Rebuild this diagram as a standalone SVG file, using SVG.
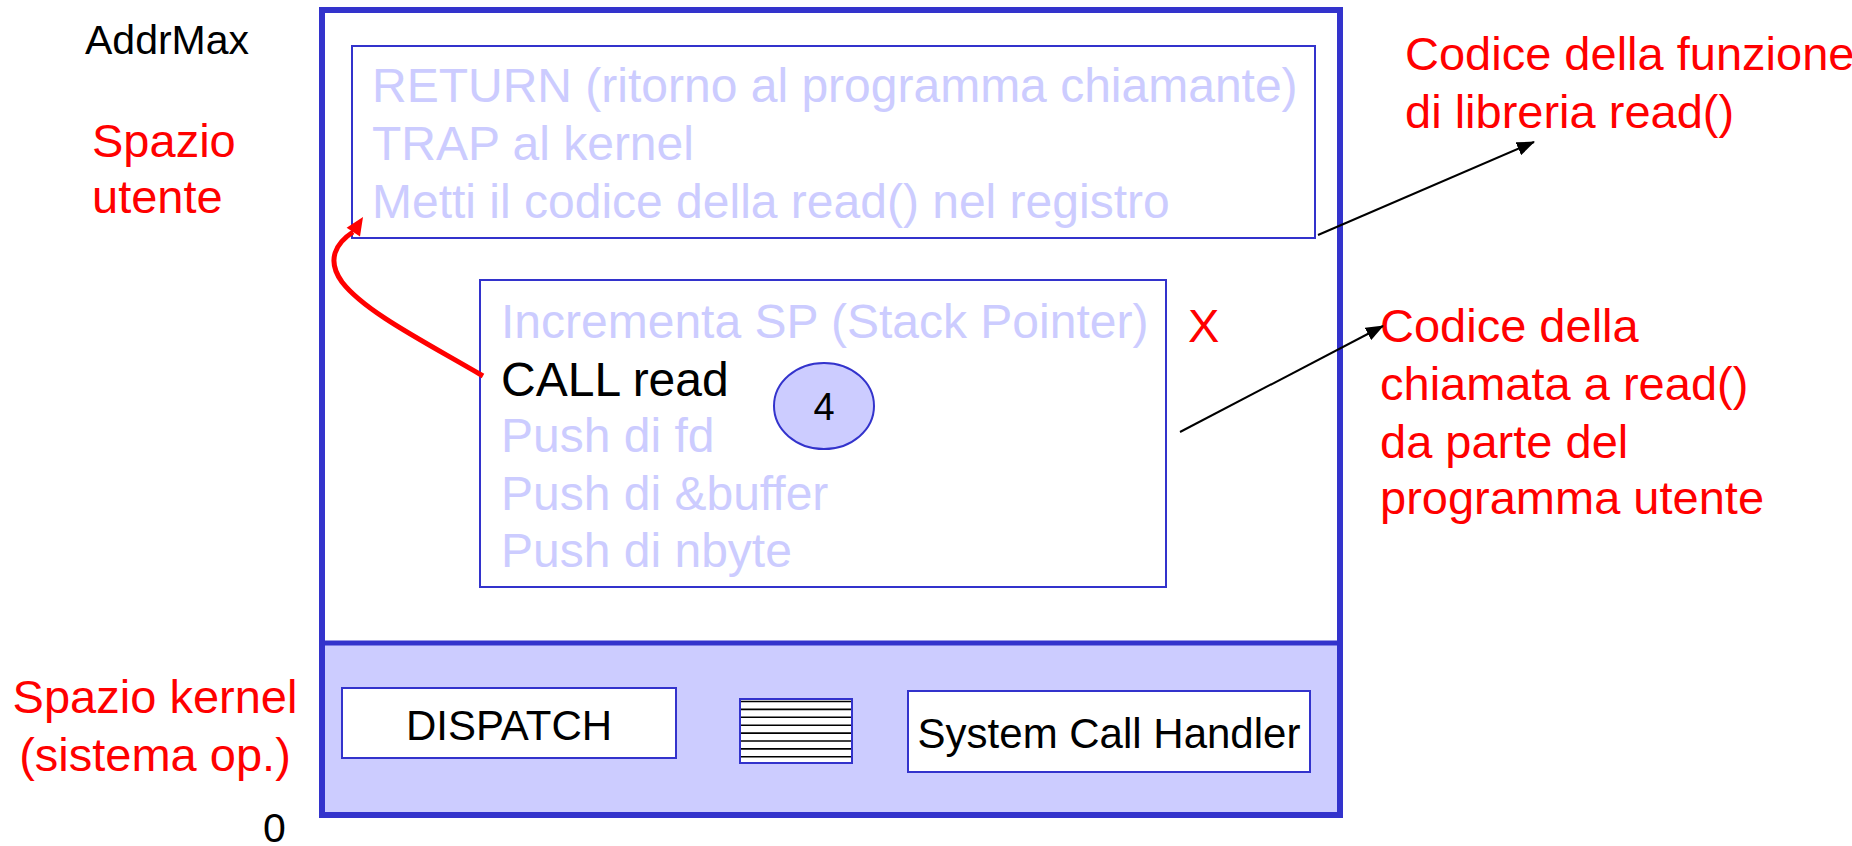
<svg xmlns="http://www.w3.org/2000/svg" width="1852" height="846" viewBox="0 0 1852 846">
<style>
text{font-family:"Liberation Sans",Arial,sans-serif}
.red{fill:#FF0000;font-size:47px}
.faint{fill:#CCCCFF;font-size:48px}
.blk{fill:#000000}
.thin{fill:#FFFFFF;stroke:#3333CC;stroke-width:2}
.hatch{stroke:#000000;stroke-width:1.6}
</style>
<defs>
<marker id="ah" markerWidth="18" markerHeight="14" refX="17" refY="7" orient="auto" markerUnits="userSpaceOnUse">
<path d="M0,0 L18,7 L0,14 Z" fill="#000000"/>
</marker>
</defs>
<rect x="0" y="0" width="1852" height="846" fill="#FFFFFF"/>

<g id="memory">
<rect x="322" y="643" width="1018" height="172" fill="#CCCCFF"/>
<rect x="322" y="10" width="1018" height="805" fill="none" stroke="#3333CC" stroke-width="6"/>
<line x1="322" y1="643" x2="1340" y2="643" stroke="#3333CC" stroke-width="5"/>
</g>

<g id="labels">
<text x="85" y="54" class="blk" font-size="41">AddrMax</text>
<text x="92" y="157" class="red">Spazio</text>
<text x="92" y="213" class="red">utente</text>
<text x="155" y="713" class="red" text-anchor="middle">Spazio kernel</text>
<text x="155" y="771" class="red" text-anchor="middle">(sistema op.)</text>
<text x="263" y="842" class="blk" font-size="41">0</text>
<text x="1188" y="342" class="red" font-size="52">X</text>
<text x="1405" y="70" class="red">Codice della funzione</text>
<text x="1405" y="128" class="red">di libreria read()</text>
<text x="1380" y="342" class="red">Codice della</text>
<text x="1380" y="400" class="red">chiamata a read()</text>
<text x="1380" y="458" class="red">da parte del</text>
<text x="1380" y="514" class="red">programma utente</text>
</g>

<g id="library">
<rect x="352" y="46" width="963" height="192" class="thin"/>
<text x="372" y="102" class="faint">RETURN (ritorno al programma chiamante)</text>
<text x="372" y="160" class="faint">TRAP al kernel</text>
<text x="372" y="218" class="faint">Metti il codice della read() nel registro</text>
</g>

<g id="caller">
<rect x="480" y="280" width="686" height="307" class="thin"/>
<text x="501" y="338" class="faint">Incrementa SP (Stack Pointer)</text>
<text x="501" y="396" class="blk" font-size="48">CALL read</text>
<text x="501" y="452" class="faint">Push di fd</text>
<text x="501" y="510" class="faint">Push di &amp;buffer</text>
<text x="501" y="567" class="faint">Push di nbyte</text>
</g>

<g id="step4">
<ellipse cx="824" cy="406" rx="50" ry="43" fill="#CCCCFF" stroke="#3333CC" stroke-width="2"/>
<text x="824" y="420" class="blk" font-size="38" text-anchor="middle">4</text>
</g>

<g id="dispatch">
<rect x="342" y="688" width="334" height="70" class="thin"/>
<text x="509" y="740" class="blk" font-size="42" text-anchor="middle">DISPATCH</text>
</g>

<g id="table">
<rect x="740" y="699" width="112" height="64" class="thin"/>
<line x1="741" y1="701.5" x2="851" y2="701.5" class="hatch"/>
<line x1="741" y1="709.4" x2="851" y2="709.4" class="hatch"/>
<line x1="741" y1="717.3" x2="851" y2="717.3" class="hatch"/>
<line x1="741" y1="725.2" x2="851" y2="725.2" class="hatch"/>
<line x1="741" y1="733.1" x2="851" y2="733.1" class="hatch"/>
<line x1="741" y1="741" x2="851" y2="741" class="hatch"/>
<line x1="741" y1="748.9" x2="851" y2="748.9" class="hatch"/>
<line x1="741" y1="756.8" x2="851" y2="756.8" class="hatch"/>
</g>

<g id="handler">
<rect x="908" y="691" width="402" height="81" class="thin"/>
<text x="1109" y="748" class="blk" font-size="42" text-anchor="middle">System Call Handler</text>
</g>

<g id="connectors">
<path d="M483,376 C425,342 365,312 342,282 C326,260 336,243 353,232" fill="none" stroke="#FF0000" stroke-width="5"/>
<polygon points="363,217 360,236.4 346.6,227.8" fill="#FF0000"/>
<line x1="1318" y1="235" x2="1534" y2="142" stroke="#000000" stroke-width="2" marker-end="url(#ah)"/>
<line x1="1180" y1="432" x2="1383" y2="326" stroke="#000000" stroke-width="2" marker-end="url(#ah)"/>
</g>
</svg>
